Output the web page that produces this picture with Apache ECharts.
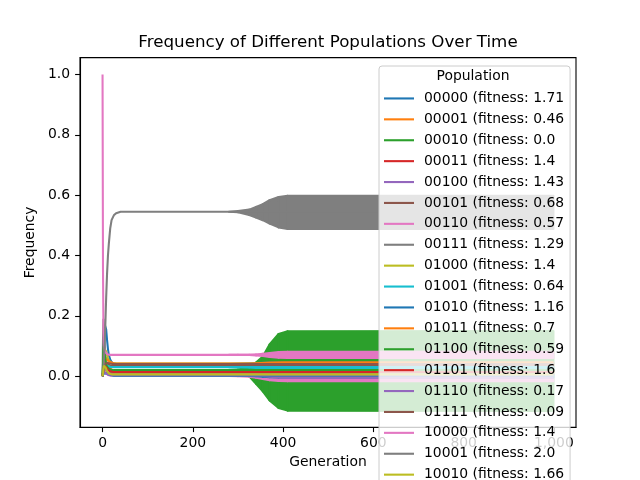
<!DOCTYPE html>
<html>
<head>
<meta charset="utf-8">
<script src="https://cdn.jsdelivr.net/npm/echarts@6/dist/echarts.min.js"></script>
<style>
  html, body { margin: 0; padding: 0; background: #ffffff; }
  #chart { width: 640px; height: 480px; }
</style>
</head>
<body>
<div id="chart"></div>
<script>
const genotypes = ["00000", "00001", "00010", "00011", "00100", "00101", "00110", "00111", "01000", "01001",
  "01010", "01011", "01100", "01101", "01110", "01111", "10000", "10001", "10010"];
const fitness = [1.71, 0.46, 0.0, 1.4, 1.43, 0.68, 0.57, 1.29, 1.4, 0.64, 1.16, 0.7, 0.59, 1.6, 0.17, 0.09, 1.4, 2.0, 1.66];

const generations = [0, 1, 2, 3, 4, 5, 6, 7, 8, 10, 12, 14, 17, 20, 25, 30, 40, 60, 150, 280, 330, 370, 400, 999];

// one row per genotype at the generations above
const freqRows = [
  [0, 0.01, 0.04, 0.09, 0.14, 0.17, 0.175, 0.17, 0.155, 0.12, 0.09, 0.07, 0.055, 0.047, 0.042, 0.041, 0.04, 0.04, 0.04, 0.04, 0.043, 0.045, 0.045, 0.045],
  [0, 0.005, 0.015, 0.03, 0.042, 0.05, 0.055, 0.055, 0.052, 0.045, 0.037, 0.03, 0.025, 0.022, 0.02, 0.019, 0.019, 0.019, 0.019, 0.019, 0.019, 0.019, 0.019, 0.019],
  [0, 0.04, 0.08, 0.07, 0.05, 0.035, 0.025, 0.018, 0.013, 0.008, 0.005, 0.004, 0.003, 0.003, 0.003, 0.003, 0.003, 0.003, 0.003, 0.003, 0.003, 0.003, 0.003, 0.003],
  [0, 0.005, 0.015, 0.03, 0.04, 0.047, 0.05, 0.048, 0.045, 0.037, 0.03, 0.024, 0.019, 0.016, 0.014, 0.013, 0.012, 0.012, 0.012, 0.012, 0.012, 0.012, 0.012, 0.012],
  [0, 0.01, 0.02, 0.028, 0.03, 0.028, 0.025, 0.022, 0.019, 0.015, 0.012, 0.01, 0.009, 0.008, 0.008, 0.008, 0.008, 0.008, 0.008, 0.008, 0.006, -0.002, -0.006, -0.006],
  [0, 0.005, 0.02, 0.035, 0.045, 0.05, 0.05, 0.048, 0.046, 0.042, 0.039, 0.037, 0.036, 0.035, 0.035, 0.035, 0.035, 0.035, 0.035, 0.035, 0.035, 0.035, 0.035, 0.035],
  [0, 0.01, 0.02, 0.022, 0.02, 0.017, 0.014, 0.011, 0.009, 0.006, 0.004, 0.003, 0.002, 0.001, 0.001, 0.001, 0.001, 0.001, 0.001, 0.001, 0.001, 0.001, 0.001, 0.001],
  [0, 0.12, 0.19, 0.17, 0.13, 0.1, 0.08, 0.065, 0.052, 0.035, 0.025, 0.019, 0.015, 0.012, 0.011, 0.01, 0.01, 0.01, 0.01, 0.01, 0.01, 0.01, 0.01, 0.01],
  [0, 0.02, 0.05, 0.075, 0.09, 0.095, 0.093, 0.088, 0.082, 0.07, 0.06, 0.052, 0.047, 0.044, 0.043, 0.042, 0.042, 0.042, 0.042, 0.042, 0.042, 0.042, 0.042, 0.042],
  [0, 0.005, 0.015, 0.025, 0.032, 0.036, 0.038, 0.038, 0.037, 0.035, 0.033, 0.032, 0.031, 0.03, 0.03, 0.03, 0.03, 0.03, 0.03, 0.03, 0.03, 0.03, 0.03, 0.03],
  [0, 0.003, 0.008, 0.012, 0.014, 0.014, 0.013, 0.012, 0.01, 0.008, 0.006, 0.005, 0.004, 0.003, 0.002, 0.002, 0.002, 0.002, 0.002, 0.002, 0.002, 0.002, 0.002, 0.002],
  [0, 0.005, 0.015, 0.028, 0.04, 0.05, 0.057, 0.06, 0.06, 0.057, 0.053, 0.05, 0.047, 0.045, 0.043, 0.042, 0.042, 0.042, 0.042, 0.042, 0.042, 0.045, 0.046, 0.046],
  [0, 0.03, 0.09, 0.1, 0.085, 0.07, 0.058, 0.048, 0.04, 0.032, 0.027, 0.024, 0.022, 0.021, 0.02, 0.02, 0.02, 0.02, 0.02, 0.02, 0.02, 0.02, 0.02, 0.02],
  [0, 0.01, 0.025, 0.035, 0.04, 0.04, 0.037, 0.033, 0.03, 0.025, 0.021, 0.018, 0.016, 0.015, 0.014, 0.014, 0.014, 0.014, 0.014, 0.014, 0.014, 0.014, 0.014, 0.014],
  [0, 0.008, 0.015, 0.016, 0.015, 0.013, 0.011, 0.009, 0.008, 0.007, 0.006, 0.005, 0.005, 0.005, 0.005, 0.005, 0.005, 0.005, 0.005, 0.005, 0.005, 0.005, 0.005, 0.005],
  [0, 0.006, 0.015, 0.025, 0.033, 0.038, 0.042, 0.044, 0.045, 0.045, 0.044, 0.043, 0.042, 0.041, 0.04, 0.04, 0.04, 0.04, 0.04, 0.04, 0.04, 0.04, 0.04, 0.04],
  [1.0, 0.35, 0.16, 0.11, 0.09, 0.082, 0.078, 0.076, 0.075, 0.073, 0.072, 0.071, 0.0707, 0.0707, 0.0707, 0.0707, 0.0707, 0.0707, 0.0707, 0.0707, 0.0707, 0.0707, 0.0707, 0.0707],
  [0, 0.01, 0.03, 0.06, 0.09, 0.12, 0.16, 0.21, 0.26, 0.34, 0.4, 0.44, 0.49, 0.517, 0.533, 0.54, 0.545, 0.545, 0.545, 0.545, 0.545, 0.545, 0.545, 0.545],
  [0, 0.01, 0.025, 0.035, 0.04, 0.038, 0.033, 0.028, 0.024, 0.017, 0.012, 0.009, 0.007, 0.006, 0.006, 0.006, 0.006, 0.006, 0.006, 0.006, 0.006, 0.006, 0.006, 0.006]
];

// period-2 oscillation after ~300 generations, kept as its envelope
const bandGens = [280, 300, 325, 340, 355, 370, 390, 410, 999];
const bandIndex = [12, 17, 16, 15, 9, 1, 10, 6];
const bandHigh = [
  [0.02, 0.022, 0.03, 0.045, 0.065, 0.105, 0.14, 0.149, 0.15],
  [0.545, 0.547, 0.552, 0.561, 0.57, 0.583, 0.594, 0.598, 0.598],
  [0.0707, 0.0707, 0.071, 0.072, 0.074, 0.077, 0.08, 0.0806, 0.0806],
  [0.04, 0.04, 0.04, 0.041, 0.042, 0.043, 0.044, 0.044, 0.044],
  [0.03, 0.03, 0.03, 0.03, 0.031, 0.031, 0.031, 0.031, 0.031],
  [0.019, 0.019, 0.019, 0.02, 0.021, 0.022, 0.022, 0.022, 0.022],
  [0.002, 0.002, 0.003, 0.004, 0.005, 0.006, 0.0066, 0.0066, 0.0066],
  [0.001, 0.001, 0, -0.002, -0.004, -0.006, -0.008, -0.009, -0.009]
];
const bandLow = [
  [0.02, 0.015, 0.0, -0.025, -0.05, -0.08, -0.105, -0.114, -0.115],
  [0.545, 0.543, 0.534, 0.526, 0.517, 0.506, 0.493, 0.488, 0.488],
  [0.0707, 0.0707, 0.07, 0.069, 0.067, 0.064, 0.061, 0.0607, 0.0607],
  [0.04, 0.04, 0.039, 0.037, 0.035, 0.033, 0.031, 0.031, 0.031],
  [0.03, 0.03, 0.029, 0.027, 0.025, 0.023, 0.022, 0.022, 0.022],
  [0.019, 0.019, 0.018, 0.016, 0.013, 0.011, 0.009, 0.009, 0.009],
  [0.002, 0.002, 0.001, 0, -0.002, -0.003, -0.004, -0.004, -0.004],
  [0.001, 0, -0.002, -0.005, -0.009, -0.013, -0.016, -0.017, -0.017]
];

const xTicks = [0, 200, 400, 600, 800, 1000];
const yTicks = [0, 0.2, 0.4, 0.6, 0.8, 1.0];

const palette = ["#1f77b4", "#ff7f0e", "#2ca02c", "#d62728", "#9467bd", "#8c564b", "#e377c2", "#7f7f7f", "#bcbd22", "#17becf"];
const font = "DejaVu Sans";
const lineWidth = 2.08;

function formatFitness(value) {
  return Number.isInteger(value) ? value.toFixed(1) : String(value);
}

const names = genotypes.map((g, i) => `${g} (fitness: ${formatFitness(fitness[i])}`);

function lineSeries(i) {
  const color = palette[i % palette.length];
  return {
    type: "line",
    name: names[i],
    data: generations.map((g, k) => [g, freqRows[i][k]]),
    showSymbol: false,
    symbol: "none",
    color: color,
    lineStyle: { color: color, width: lineWidth },
    itemStyle: { color: color },
    animation: false
  };
}

// envelope drawn as one quad per segment between consecutive band generations
function bandSeries(b) {
  const i = bandIndex[b];
  const color = palette[i % palette.length];
  const data = [];
  for (let k = 0; k < bandGens.length - 1; k++) {
    data.push([bandGens[k], bandLow[b][k], bandHigh[b][k], bandGens[k + 1], bandLow[b][k + 1], bandHigh[b][k + 1]]);
  }
  return {
    type: "custom",
    clip: true,
    silent: true,
    animation: false,
    encode: { x: [0, 3], y: [1, 2, 4, 5] },
    data: data,
    renderItem(params, api) {
      const aLow = api.coord([api.value(0), api.value(1)]);
      const aHigh = api.coord([api.value(0), api.value(2)]);
      const bLow = api.coord([api.value(3), api.value(4)]);
      const bHigh = api.coord([api.value(3), api.value(5)]);
      return {
        type: "polygon",
        shape: { points: [aLow, bLow, bHigh, aHigh] },
        style: { fill: color, stroke: color, lineWidth: lineWidth, lineJoin: "round" }
      };
    }
  };
}

const series = [];
// the big green band sits under every other line
series.push(bandSeries(bandIndex.indexOf(12)));
genotypes.forEach((g, i) => {
  series.push(lineSeries(i));
  const b = bandIndex.indexOf(i);
  if (b >= 0 && i !== 12) {
    series.push(bandSeries(b));
  }
});

const axisText = { color: "#000000", fontSize: 13.9, fontFamily: font };

const chart = echarts.init(document.getElementById("chart"), null, { renderer: "canvas" });
chart.setOption({
  backgroundColor: "#ffffff",
  animation: false,
  grid: {
    left: 80,
    right: 64,
    top: 57.6,
    bottom: 52.8,
    show: true,
    borderColor: "#000000",
    borderWidth: 1.1,
    containLabel: false
  },
  xAxis: {
    type: "value",
    min: -49.95,
    max: 1048.95,
    name: "Generation",
    nameLocation: "middle",
    nameGap: 27,
    nameTextStyle: axisText,
    axisLine: { show: true, onZero: false, lineStyle: { color: "#000000", width: 1.1 } },
    axisTick: { show: true, length: 4.9, customValues: xTicks, lineStyle: { color: "#000000", width: 1.1 } },
    axisLabel: Object.assign({ margin: 9, customValues: xTicks }, axisText),
    splitLine: { show: false }
  },
  yAxis: {
    type: "value",
    min: -0.169,
    max: 1.0557,
    name: "Frequency",
    nameLocation: "middle",
    nameGap: 38,
    nameTextStyle: axisText,
    axisLine: { show: true, onZero: false, lineStyle: { color: "#000000", width: 1.1 } },
    axisTick: { show: true, length: 4.9, customValues: yTicks, lineStyle: { color: "#000000", width: 1.1 } },
    axisLabel: Object.assign({
      margin: 10,
      customValues: yTicks,
      formatter: (v) => v.toFixed(1)
    }, axisText),
    splitLine: { show: false }
  },
  legend: {
    data: names,
    orient: "vertical",
    left: 379,
    top: 66,
    height: 460,
    padding: [22, 6, 5, 5],
    itemGap: 0,
    itemWidth: 30,
    itemHeight: 2.1,
    icon: "rect",
    backgroundColor: "rgba(255,255,255,0.8)",
    borderColor: "#cccccc",
    borderWidth: 1,
    borderRadius: 3,
    selectedMode: false,
    textStyle: {
      color: "#000000",
      fontSize: 13.9,
      fontFamily: font,
      lineHeight: 20.9,
      padding: [0, 0, 0, 5]
    }
  },
  graphic: [
    {
      type: "text",
      x: 328,
      y: 43,
      z: 100,
      style: {
        text: "Frequency of Different Populations Over Time",
        fill: "#000000",
        font: "16.7px 'DejaVu Sans'",
        textAlign: "center",
        textVerticalAlign: "middle"
      }
    },
    {
      type: "text",
      x: 473,
      y: 76,
      z: 100,
      style: {
        text: "Population",
        fill: "#000000",
        font: "13.9px 'DejaVu Sans'",
        textAlign: "center",
        textVerticalAlign: "middle"
      }
    }
  ],
  series: series
});
</script>
</body>
</html>
